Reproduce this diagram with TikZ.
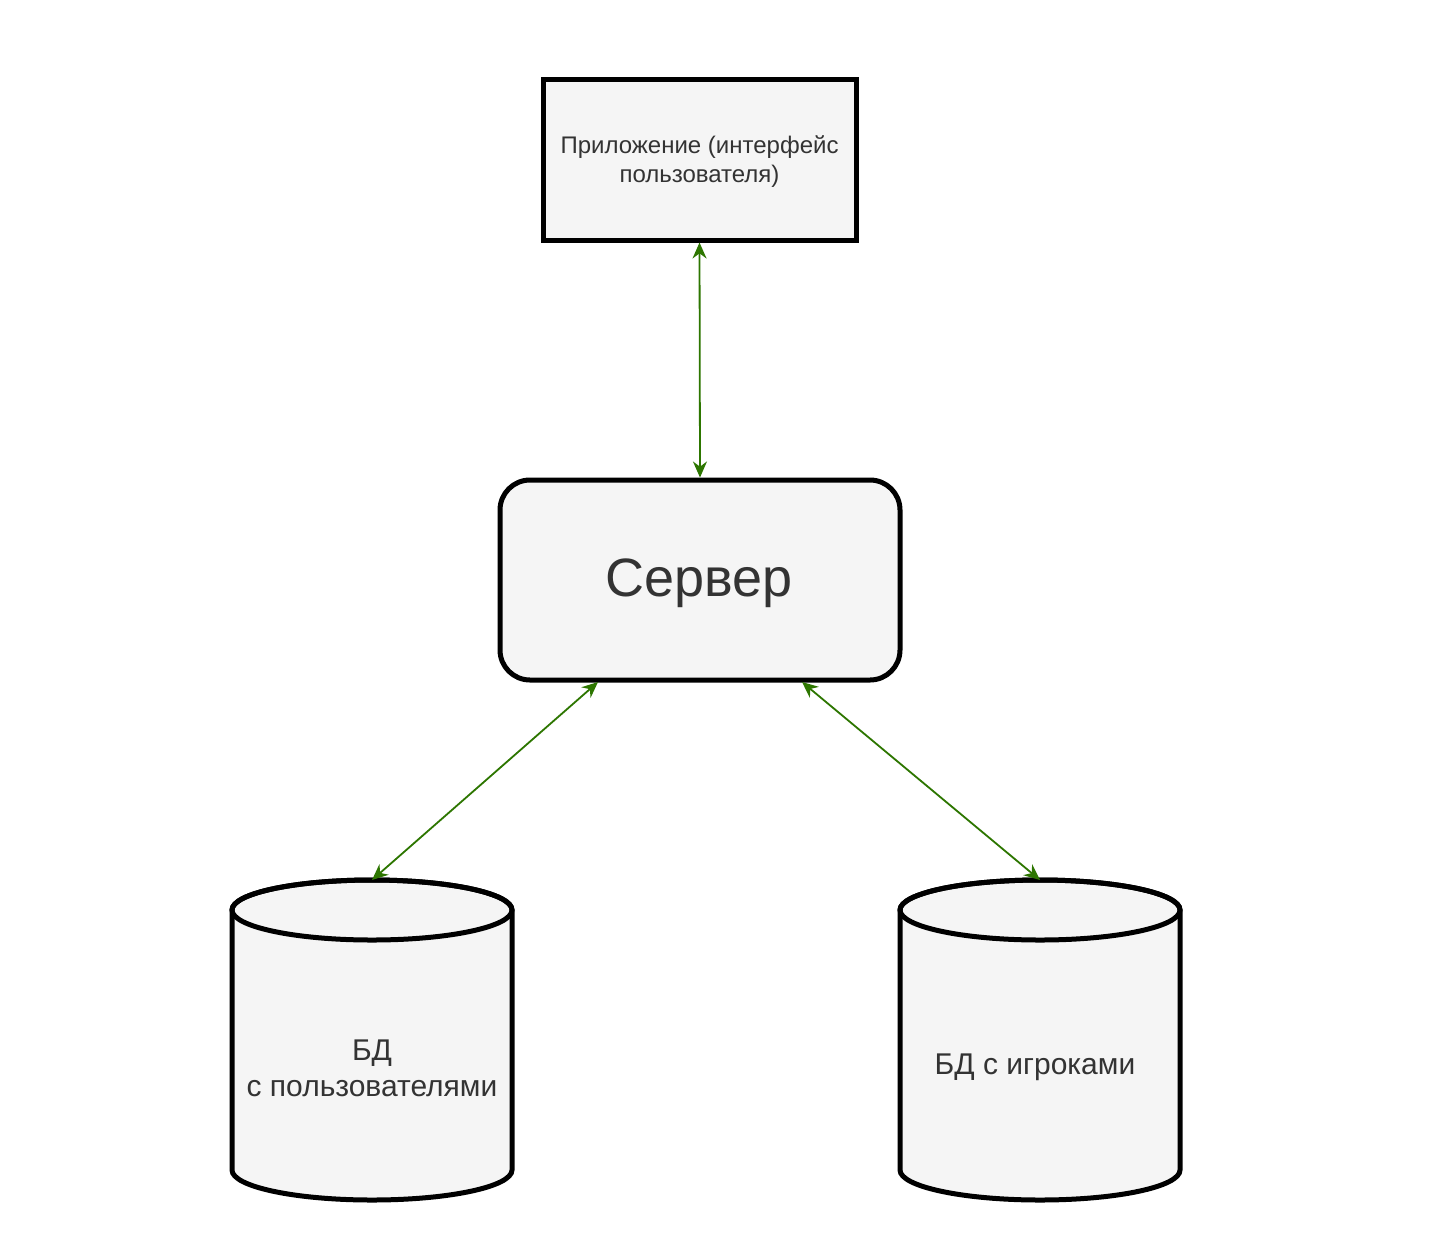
\documentclass[tikz,border=0pt]{standalone}
\usepackage{fontspec}
\setmainfont{Liberation Sans}
\usetikzlibrary{arrows.meta}
\definecolor{boxfill}{HTML}{F5F5F5}
\definecolor{txt}{HTML}{333333}
\definecolor{arr}{HTML}{2D7600}
\begin{document}
\begin{tikzpicture}[x=1pt,y=-1pt,
  boxstyle/.style={draw=black,line width=5pt,fill=boxfill,text=txt,align=center,inner sep=0pt},
  cylstyle/.style={draw=black,line width=5pt,fill=boxfill},
  link/.style={draw=arr,line width=1.8pt,{Stealth[length=16pt,width=14pt]}-{Stealth[length=16pt,width=14pt]}}]
\useasboundingbox[fill=white] (0,0) rectangle (1437,1235);
% application
\node[boxstyle,minimum width=313pt,minimum height=161pt] (app) at (699.5,159.5) {};
\node[text=txt,align=center,font=\fontsize{24}{29}\selectfont] (apptext) at (699.5,162) {Приложение (интерфейс\\пользователя)};
% server
\node[boxstyle,rounded corners=30pt,minimum width=400pt,minimum height=200pt] (srv) at (700,580) {};
\node[text=txt,font=\fontsize{54}{60}\selectfont] (srvtext) at (699,583) {Сервер};
% cylinders
\foreach \cx/\nm in {372/ucyl,1040/gcyl}{
  \path[cylstyle] (\cx-140,910) -- (\cx-140,1170) arc[start angle=180,end angle=360,x radius=140,y radius=-30] -- (\cx+140,910) arc[start angle=0,end angle=180,x radius=140,y radius=-30] -- cycle;
  \draw[line width=5pt] (\cx,910) ellipse[x radius=140,y radius=30];
  \coordinate (\nm) at (\cx,880);
}
\node[text=txt,align=center,font=\fontsize{30}{36}\selectfont] (utext) at (372,1068) {БД\\с пользователями};
\node[text=txt,align=center,font=\fontsize{30}{36}\selectfont] (gtext) at (1035,1067) {БД с игроками};
% connectors
\coordinate (srvl) at (598,682);
\coordinate (srvr) at (802,682);
\draw[link] (app.south) -- (srv.north);
\draw[link] (srvl) -- (ucyl);
\draw[link] (srvr) -- (gcyl);
\end{tikzpicture}
\end{document}
